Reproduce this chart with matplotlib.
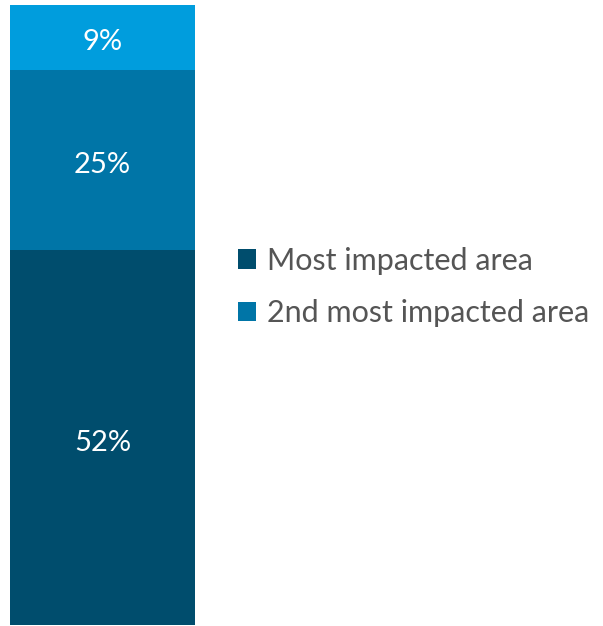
import matplotlib.pyplot as plt
from matplotlib.patches import Patch

segments = ["Most impacted area", "2nd most impacted area", "Other"]
values = [52, 25, 9]
colors = ["#004d6d", "#0075a7", "#009ddd"]
legend_labels = ["Most impacted area", "2nd most impacted area"]

plt.rcParams['font.family'] = ['Lato', 'DejaVu Sans']

fig = plt.figure(figsize=(6.03, 6.26), dpi=100)
ax = fig.add_axes([10 / 603, 1 / 626, 185 / 603, 620 / 626])

bottom = 0
for v, c in zip(values, colors):
    ax.bar(0, v, width=1.0, bottom=bottom, color=c, linewidth=0)
    ax.annotate(f"{v}%", xy=(0, bottom + v / 2), xytext=(0, -5),
                textcoords="offset pixels", ha="center", va="center",
                color="white", fontsize=21)
    bottom += v

ax.set_xlim(-0.5, 0.5)
ax.set_ylim(0, sum(values))
ax.axis("off")

handles = [Patch(facecolor=c, edgecolor="none") for c in colors[:2]]
fig.legend(handles, legend_labels, loc="center left",
           bbox_to_anchor=(210 / 603, 1 - 287 / 626), frameon=False,
           handlelength=0.6, handleheight=0.6,
           handletextpad=0.35, labelspacing=0.8, labelcolor="#555555",
           prop={"size": 22})

fig.savefig("out.png", dpi=100)
